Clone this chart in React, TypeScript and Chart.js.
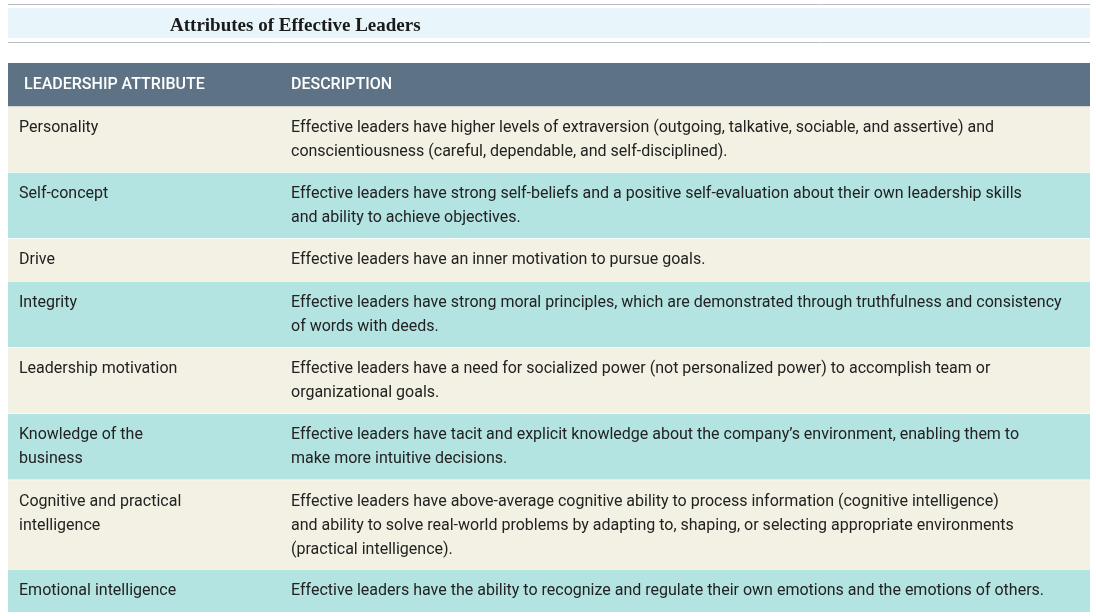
import { useEffect, useRef } from "react";
import { Chart, registerables, type Plugin } from "chart.js";

Chart.register(...registerables);

const TITLE = "Attributes of Effective Leaders";
const HEADERS = ["LEADERSHIP ATTRIBUTE", "DESCRIPTION"];
const ATTRIBUTES = [
  ["Personality"],
  ["Self-concept"],
  ["Drive"],
  ["Integrity"],
  ["Leadership motivation"],
  ["Knowledge of the", "business"],
  ["Cognitive and practical", "intelligence"],
  ["Emotional intelligence"],
];
const DESCRIPTIONS = [
  ["Effective leaders have higher levels of extraversion (outgoing, talkative, sociable, and assertive) and", "conscientiousness (careful, dependable, and self-disciplined)."],
  ["Effective leaders have strong self-beliefs and a positive self-evaluation about their own leadership skills", "and ability to achieve objectives."],
  ["Effective leaders have an inner motivation to pursue goals."],
  ["Effective leaders have strong moral principles, which are demonstrated through truthfulness and consistency", "of words with deeds."],
  ["Effective leaders have a need for socialized power (not personalized power) to accomplish team or", "organizational goals."],
  ["Effective leaders have tacit and explicit knowledge about the company\u2019s environment, enabling them to", "make more intuitive decisions."],
  ["Effective leaders have above-average cognitive ability to process information (cognitive intelligence)", "and ability to solve real-world problems by adapting to, shaping, or selecting appropriate environments", "(practical intelligence)."],
  ["Effective leaders have the ability to recognize and regulate their own emotions and the emotions of others."],
];

const HEADER_BG = "#5d7285";
const ROW_BG = ["#f3f1e3", "#b3e4e2"];
const LINE_H = 24;
const PAD = 20;

const rowSize = (lines: number) => lines * LINE_H + PAD;

const tableText: Plugin = {
  id: "tableText",
  afterDatasetsDraw(chart) {
    const ctx = chart.ctx;
    ctx.save();
    // title strip
    ctx.fillStyle = "#e8f6fb";
    ctx.fillRect(8, 8, 1082, 30);
    ctx.strokeStyle = "#b8bcc0";
    ctx.lineWidth = 1;
    ctx.beginPath();
    ctx.moveTo(8, 4.5); ctx.lineTo(1090, 4.5);
    ctx.moveTo(8, 42.5); ctx.lineTo(1090, 42.5);
    ctx.stroke();
    ctx.fillStyle = "#1a1a1a";
    ctx.font = "bold 19px 'Liberation Serif', serif";
    ctx.textBaseline = "middle";
    ctx.fillText(TITLE, 170, 26);

    chart.data.datasets.forEach((_, i) => {
      const el: any = chart.getDatasetMeta(i).data[0];
      const top = Math.min(el.y, el.base);
      const left = el.x - el.width / 2;
      if (i === 0) {
        ctx.fillStyle = "#ffffff";
        ctx.font = "500 16px Roboto, sans-serif";
        ctx.fillText(HEADERS[0], left + 16, top + PAD / 2 + LINE_H / 2);
        ctx.fillText(HEADERS[1], left + 283, top + PAD / 2 + LINE_H / 2);
        return;
      }
      ctx.fillStyle = "#222222";
      ctx.font = "16px Roboto, sans-serif";
      ATTRIBUTES[i - 1].forEach((t, k) =>
        ctx.fillText(t, left + 11, top + PAD / 2 + LINE_H / 2 + k * LINE_H));
      DESCRIPTIONS[i - 1].forEach((t, k) =>
        ctx.fillText(t, left + 283, top + PAD / 2 + LINE_H / 2 + k * LINE_H));
    });
    ctx.restore();
  },
};

export default function App() {
  const canvasRef = useRef<HTMLCanvasElement>(null);

  useEffect(() => {
    if (!canvasRef.current) return;
    const sizes = [1, ...DESCRIPTIONS.map((d) => d.length)].map(rowSize);
    const total = sizes.reduce((a, b) => a + b, 0);
    const chart = new Chart(canvasRef.current, {
      type: "bar",
      data: {
        labels: ["table"],
        datasets: sizes.map((s, i) => ({
          label: i === 0 ? "header" : ATTRIBUTES[i - 1].join(" "),
          data: [s],
          backgroundColor: i === 0 ? HEADER_BG : ROW_BG[(i - 1) % 2],
          borderColor: "#ffffff",
          borderWidth: i === 0 ? 0 : { top: 1, bottom: 0, left: 0, right: 0 },
          borderSkipped: false,
          barPercentage: 1,
          categoryPercentage: 1,
        })),
      },
      options: {
        animation: false,
        responsive: false,
        layout: { padding: { left: 8, right: 6, top: 63, bottom: 4 } },
        plugins: { legend: { display: false }, tooltip: { enabled: false } },
        scales: {
          x: { display: false, stacked: true },
          y: { display: false, stacked: true, reverse: true, min: 0, max: total },
        },
      },
      plugins: [tableText],
    });
    return () => chart.destroy();
  }, []);

  return (
    <div style={{ position: "fixed", left: 0, top: 0, width: 1096, height: 616, background: "#fff" }}>
      <canvas ref={canvasRef} width={1096} height={616} />
    </div>
  );
}
